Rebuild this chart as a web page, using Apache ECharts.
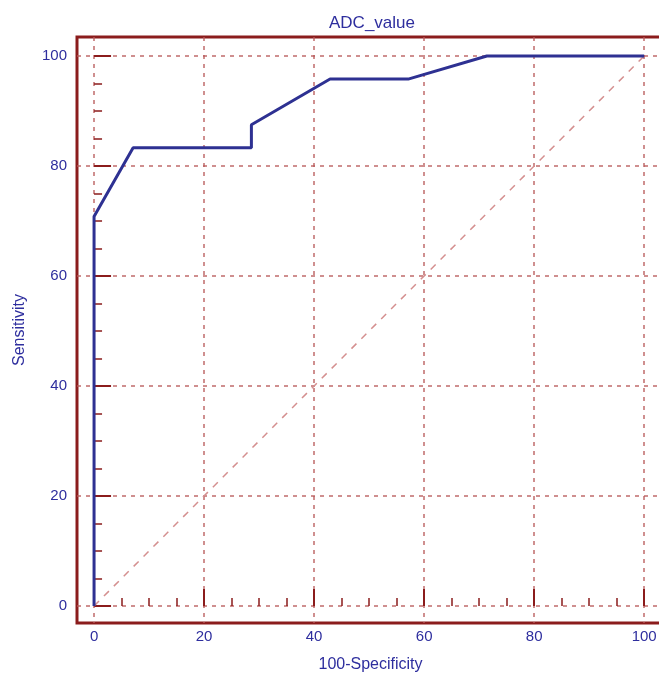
<!DOCTYPE html>
<html>
<head>
<meta charset="utf-8">
<script src="https://cdn.jsdelivr.net/npm/echarts@6/dist/echarts.min.js"></script>
<style>html,body{margin:0;padding:0;background:#fff;overflow:hidden;width:659px;height:673px;}#c{width:659px;height:673px;overflow:hidden;}</style>
</head>
<body>
<div id="c"></div>
<script>
// ROC curve points: [100-Specificity, Sensitivity]
const fpr = [0, 0, 7.1, 28.6, 28.6, 42.9, 57.1, 71.4, 100];
const tpr = [0, 70.8, 83.3, 83.3, 87.5, 95.8, 95.8, 100, 100];
const diagX = [0, 100];
const diagY = [0, 100];
const majorTicks = [0, 20, 40, 60, 80, 100];
const minorTicks = [5, 10, 15, 25, 30, 35, 45, 50, 55, 65, 70, 75, 85, 90, 95];

const frameColor = '#8b1c1c';
const gridColor = '#b85a5a';
const textColor = '#2e2e9e';
const lineColor = '#2e3192';
const font = 'Liberation Sans, Arial, sans-serif';

const chart = echarts.init(document.getElementById('c'));
const xMin = -3.1, xMax = 103.6, yMin = -3.1, yMax = 103.45;

function mkAxis(isX, major) {
  return {
    type: 'value', min: isX ? xMin : yMin, max: isX ? xMax : yMax,
    position: isX ? 'bottom' : 'left',
    axisLine: { show: false },
    axisTick: {
      show: true, inside: true, length: major ? 17 : 8,
      customValues: major ? majorTicks : minorTicks,
      lineStyle: { color: frameColor, width: major ? 2 : 1.5 }
    },
    axisLabel: major ? {
      show: true, customValues: majorTicks, color: textColor, fontSize: 15,
      fontFamily: font, margin: isX ? 6 : 10
    } : { show: false },
    splitLine: major ? {
      show: true, customValues: majorTicks,
      lineStyle: { color: gridColor, type: [4, 5], width: 1.5, opacity: 0.9 }
    } : { show: false },
    name: major ? (isX ? '100-Specificity' : 'Sensitivity') : '',
    nameLocation: 'middle',
    nameGap: isX ? 34 : 49,
    nameTextStyle: { color: textColor, fontSize: 16, fontFamily: font }
  };
}

chart.setOption({
  animation: false,
  title: {
    text: 'ADC_value', left: 367, textAlign: 'center', top: 10,
    textStyle: { color: textColor, fontSize: 17, fontWeight: 'normal', fontFamily: font }
  },
  grid: {
    left: 77, top: 37, width: 587, height: 586,
    containLabel: false, outerBoundsMode: 'none',
    show: true, borderColor: frameColor, borderWidth: 3, backgroundColor: 'transparent'
  },
  xAxis: [mkAxis(true, true), mkAxis(true, false)],
  yAxis: [mkAxis(false, true), mkAxis(false, false)],
  series: [
    {
      type: 'line', data: diagX.map((v, i) => [v, diagY[i]]),
      symbol: 'none', silent: true,
      lineStyle: { color: '#d48f8f', width: 1.5, type: [7, 7] }
    },
    {
      type: 'line', data: fpr.map((v, i) => [v, tpr[i]]),
      symbol: 'none',
      lineStyle: { color: lineColor, width: 3 }
    }
  ]
});
</script>
</body>
</html>
